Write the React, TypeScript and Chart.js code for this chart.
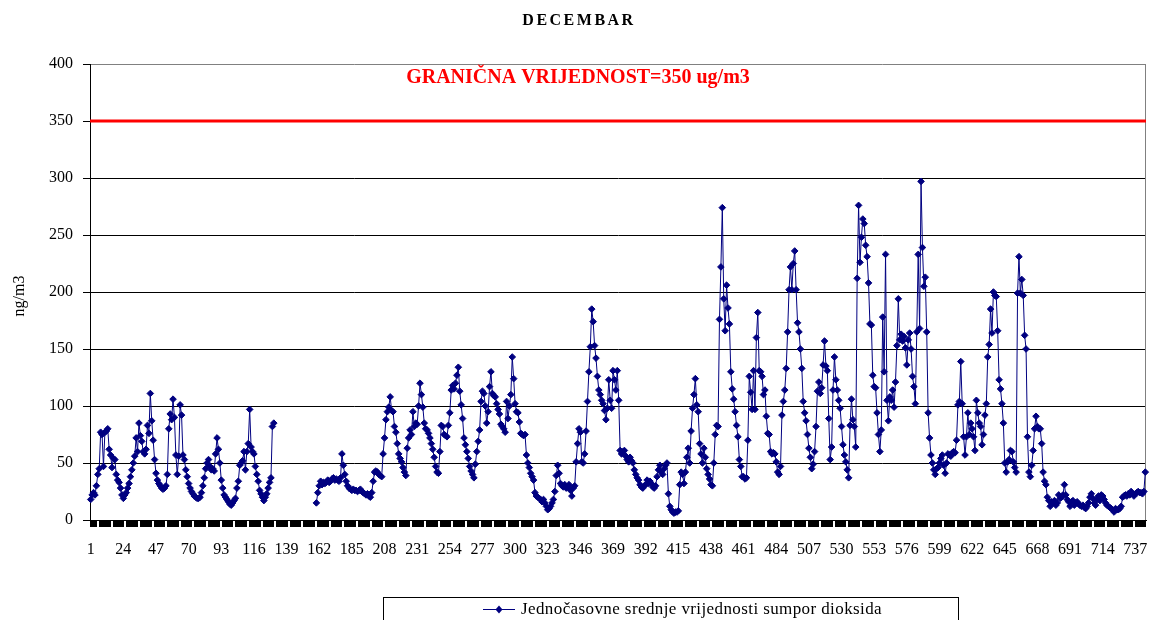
import React, { useEffect, useRef } from "react";
import { Chart, registerables } from "chart.js";

Chart.register(...registerables);

const TITLE = "DECEMBAR";
const LIMIT_LABEL = "GRANIČNA VRIJEDNOST=350 ug/m3";
const SERIES_LABEL = "Jednočasovne srednje vrijednosti sumpor dioksida";
const Y_TITLE = "ng/m3";
const LIMIT_VALUE = 350;
const Y_MIN = 0;
const Y_MAX = 400;
const Y_STEP = 50;

const shownXTicks = [1, 24, 47, 70, 93, 116, 139, 162, 185, 208, 231, 254, 277, 300, 323, 346, 369, 392, 415, 438, 461, 484, 507, 530, 553, 576, 599, 622, 645, 668, 691, 714, 737];

// hours 1-130
const hours001_130 = [
  18, 22, 24, 22, 30, 40, 45, 77, 75, 47,
  77, 78, 80, 62, 57, 46, 54, 53, 40, 35,
  33, 28, 22, 19, 22, 24, 28, 32, 38, 44,
  50, 56, 72, 60, 85, 74, 69, 60, 58, 62,
  83, 76, 111, 87, 70, 53, 41, 35, 32, 30,
  28, 27, 28, 30, 40, 80, 93, 88, 106, 90,
  57, 40, 56, 101, 92, 57, 53, 44, 38, 32,
  28, 25, 23, 21, 20, 19, 19, 20, 24, 30,
  37, 45, 50, 53, 47, 44, 45, 43, 58, 72,
  62, 50, 35, 28, 22, 20, 18, 16, 14, 13,
  15, 17, 19, 28, 34, 48, 50, 52, 60, 44,
  60, 67, 97, 64, 60, 58, 47, 40, 34, 26,
  23, 20, 17, 20, 23, 28, 33, 37, 82, 85,
];
// hours 131-159 (no measurements)
const hours131_159 = [
  null, null, null, null, null, null, null, null, null, null,
  null, null, null, null, null, null, null, null, null, null,
  null, null, null, null, null, null, null, null, null,
];
// hours 160-277
const hours160_277 = [
  15, 24, 30, 34, 31, 33, 32, 33, 35, 33,
  34, 36, 37, 35, 36, 35, 34, 37, 58, 48,
  40, 34, 30, 28, 27, 26, 27, 26, 26, 25,
  26, 27, 25, 24, 23, 22, 23, 21, 20, 24,
  34, 42, 43, 42, 40, 39, 38, 58, 72, 88,
  95, 99, 108, 96, 95, 82, 77, 67, 58, 54,
  51, 46, 42, 39, 63, 72, 79, 75, 95, 82,
  85, 84, 100, 120, 110, 99, 85, 80, 79, 76,
  72, 67, 62, 55, 47, 42, 41, 60, 83, 82,
  75, 74, 73, 83, 94, 114, 118, 115, 120, 127,
  134, 113, 101, 89, 72, 66, 60, 54, 47, 43,
  40, 37, 49, 60, 69, 79, 104, 113,
];
// hours 278-370
const hours278_370 = [
  111, 100, 85, 95, 117, 130, 111, 109, 108, 102,
  97, 93, 84, 82, 80, 77, 104, 89, 100, 110,
  143, 124, 102, 95, 94, 86, 76, 75, 74, 75,
  57, 50, 46, 41, 38, 35, 24, 21, 20, 19,
  18, 16, 18, 15, 12, 9, 10, 12, 15, 18,
  25, 39, 48, 41, 32, 30, 29, 31, 28, 29,
  31, 26, 21, 28, 30, 51, 67, 80, 77, 51,
  50, 58, 78, 104, 130, 152, 185, 174, 153, 142,
  126, 114, 110, 105, 102, 96, 88, 98, 123, 105,
  98, 131, 123,
];
// hours 371-460
const hours371_460 = [
  114, 131, 105, 61, 58, 60, 61, 56, 53, 51,
  55, 52, 50, 44, 40, 37, 35, 31, 29, 28,
  30, 31, 35, 32, 34, 32, 29, 28, 30, 38,
  44, 48, 42, 40, 45, 48, 50, 23, 12, 9,
  7, 6, 7, 7, 8, 31, 42, 40, 32, 42,
  55, 63, 50, 78, 98, 110, 124, 101, 95, 67,
  58, 50, 63, 55, 45, 40, 36, 31, 30, 50,
  75, 83, 82, 176, 222, 274, 194, 166, 206, 186,
  172, 130, 115, 106, 95, 83, 73, 53, 47, 38,
];
// hours 461-552
const hours461_552 = [
  38, 36, 37, 70, 126, 112, 97, 131, 97, 160,
  182, 131, 130, 126, 110, 114, 91, 76, 75, 60,
  58, 59, 58, 51, 42, 40, 47, 92, 104, 114,
  133, 165, 202, 222, 202, 225, 236, 202, 173, 165,
  150, 133, 104, 94, 87, 75, 63, 55, 45, 49,
  60, 82, 113, 121, 111, 116, 136, 157, 135, 131,
  89, 53, 64, 114, 143, 123, 114, 105, 98, 82,
  66, 57, 51, 44, 37, 83, 106, 88, 82, 64,
  212, 276, 226, 248, 264, 260, 241, 231, 208, 172, 171, 127,
];
// hours 553-644
const hours553_644 = [
  117, 116, 94, 75, 60, 79, 178, 130, 233, 105,
  87, 108, 105, 114, 99, 121, 153, 194, 158, 163,
  157, 161, 151, 136, 158, 164, 150, 126, 117, 102,
  165, 233, 168, 297, 239, 205, 213, 165, 94, 72,
  57, 50, 44, 40, 45, 46, 50, 54, 57, 48,
  41, 50, 58, 57, 56, 59, 60, 59, 70, 101,
  104, 139, 102, 73, 57, 73, 94, 75, 85, 80,
  73, 61, 105, 94, 85, 82, 66, 75, 92, 102,
  143, 154, 185, 164, 200, 197, 196, 166, 123, 115, 102, 85,
];
// hours 645-744
const hours645_744 = [
  50, 42, 51, 53, 61, 60, 51, 46, 42, 199,
  231, 199, 211, 197, 162, 150, 73, 42, 38, 48,
  61, 80, 91, 82, 80, 80, 67, 42, 34, 31,
  20, 17, 12, 16, 15, 17, 13, 15, 22, 19,
  20, 22, 31, 22, 18, 16, 12, 16, 17, 13,
  15, 16, 14, 13, 12, 13, 11, 10, 12, 15,
  20, 23, 19, 15, 13, 18, 21, 17, 22, 21,
  18, 15, 13, 12, 11, 10, 9, 7, 10, 9,
  9, 10, 12, 20, 21, 22, 21, 23, 22, 25,
  23, 21, 23, 24, 25, 24, 24, 23, 25, 42,
];

const so2Values = [
  ...hours001_130,
  ...hours131_159,
  ...hours160_277,
  ...hours278_370,
  ...hours371_460,
  ...hours461_552,
  ...hours553_644,
  ...hours645_744,
];
const hours = so2Values.map((_, i) => i + 1);

const SERIF = '"Liberation Serif", "Times New Roman", serif';
const NAVY = "#000080";

const decorPlugin = {
  id: "decor",
  beforeDatasetsDraw(chart: any) {
    const { ctx, chartArea: a, scales } = chart;
    ctx.save();
    ctx.strokeStyle = "#808080";
    ctx.lineWidth = 1;
    ctx.beginPath();
    ctx.moveTo(a.right - 0.5, a.top);
    ctx.lineTo(a.right - 0.5, a.bottom);
    ctx.stroke();
    const yl = scales.y.getPixelForValue(LIMIT_VALUE);
    ctx.strokeStyle = "#ff0000";
    ctx.lineWidth = 3;
    ctx.beginPath();
    ctx.moveTo(a.left, yl);
    ctx.lineTo(a.right, yl);
    ctx.stroke();
    ctx.restore();
  },
  afterDraw(chart: any) {
    const { ctx, chartArea: a, width } = chart;
    ctx.save();
    // tick band under the x axis
    ctx.fillStyle = "#000";
    ctx.fillRect(a.left, a.bottom + 1, a.right - a.left, 6);
    ctx.fillStyle = "#fff";
    const period = (a.right - a.left) / 77.5;
    for (let x = a.left + 7; x < a.right - 2; x += period) {
      ctx.fillRect(Math.round(x), a.bottom + 1, 2, 6);
    }
    // title
    ctx.fillStyle = "#000";
    ctx.font = `bold 16px ${SERIF}`;
    (ctx as any).letterSpacing = "2.5px";
    ctx.textAlign = "center";
    ctx.textBaseline = "middle";
    ctx.fillText(TITLE, width / 2 + 3, 21);
    (ctx as any).letterSpacing = "0px";
    // limit label
    ctx.fillStyle = "#ff0000";
    ctx.font = `bold 20px ${SERIF}`;
    ctx.fillText(LIMIT_LABEL, 578, 78);
    // y title
    ctx.fillStyle = "#000";
    ctx.font = `16px ${SERIF}`;
    ctx.translate(20, 296);
    ctx.rotate(-Math.PI / 2);
    ctx.fillText(Y_TITLE, 0, 0);
    ctx.setTransform(1, 0, 0, 1, 0, 0);
    // legend
    ctx.strokeStyle = "#000";
    ctx.lineWidth = 1;
    ctx.strokeRect(383.5, 597.5, 575, 40);
    ctx.strokeStyle = NAVY;
    ctx.beginPath();
    ctx.moveTo(483, 609.5);
    ctx.lineTo(515, 609.5);
    ctx.stroke();
    ctx.fillStyle = NAVY;
    ctx.beginPath();
    ctx.moveTo(499, 605.5);
    ctx.lineTo(502.5, 609.5);
    ctx.lineTo(499, 613.5);
    ctx.lineTo(495.5, 609.5);
    ctx.closePath();
    ctx.fill();
    ctx.fillStyle = "#000";
    ctx.font = `17px ${SERIF}`;
    (ctx as any).letterSpacing = "0.4px";
    ctx.textAlign = "left";
    ctx.fillText(SERIES_LABEL, 521, 610);
    (ctx as any).letterSpacing = "0px";
    ctx.restore();
  },
};

export default function App() {
  const canvasRef = useRef<HTMLCanvasElement | null>(null);

  useEffect(() => {
    const canvas = canvasRef.current;
    if (!canvas) return;
    const chart = new Chart(canvas, {
      type: "line",
      data: {
        labels: hours,
        datasets: [
          {
            label: SERIES_LABEL,
            data: so2Values,
            borderColor: NAVY,
            borderWidth: 1,
            backgroundColor: NAVY,
            pointStyle: "rectRot",
            pointRadius: 3.3,
            pointBackgroundColor: NAVY,
            pointBorderColor: NAVY,
            pointBorderWidth: 1,
            tension: 0,
            spanGaps: false,
          },
        ],
      },
      options: {
        animation: false,
        responsive: false,
        devicePixelRatio: 1,
        layout: { padding: { top: 64, right: 6, bottom: 0, left: 0 } },
        plugins: {
          legend: { display: false },
          title: { display: false },
          tooltip: { enabled: false },
        },
        scales: {
          x: {
            type: "category",
            offset: true,
            grid: { display: false, drawTicks: false },
            border: { display: true, color: "#000", width: 1 },
            ticks: {
              autoSkip: false,
              maxRotation: 0,
              minRotation: 0,
              padding: 20,
              color: "#000",
              font: { family: SERIF, size: 16 },
              callback: (_v: any, idx: number) =>
                shownXTicks.includes(hours[idx]) ? String(hours[idx]) : "",
            },
            afterFit: (s: any) => {
              s.height = 100;
              s.paddingLeft = 0;
              s.paddingRight = 0;
            },
          },
          y: {
            min: Y_MIN,
            max: Y_MAX,
            ticks: {
              stepSize: Y_STEP,
              padding: 10,
              color: "#000",
              font: { family: SERIF, size: 16 },
            },
            grid: {
              color: (c: any) => (c.tick && c.tick.value === Y_MAX ? "#808080" : "#000"),
              tickColor: "#000",
              tickLength: 7,
              lineWidth: 1,
            },
            border: { display: true, color: "#000", width: 1 },
            afterFit: (s: any) => {
              s.width = 90;
            },
          },
        },
      },
      plugins: [decorPlugin],
    });
    return () => chart.destroy();
  }, []);

  return (
    <div style={{ position: "absolute", left: 0, top: 0, width: 1152, height: 620, background: "#fff" }}>
      <canvas ref={canvasRef} width={1152} height={620} style={{ width: 1152, height: 620, display: "block" }} />
    </div>
  );
}
